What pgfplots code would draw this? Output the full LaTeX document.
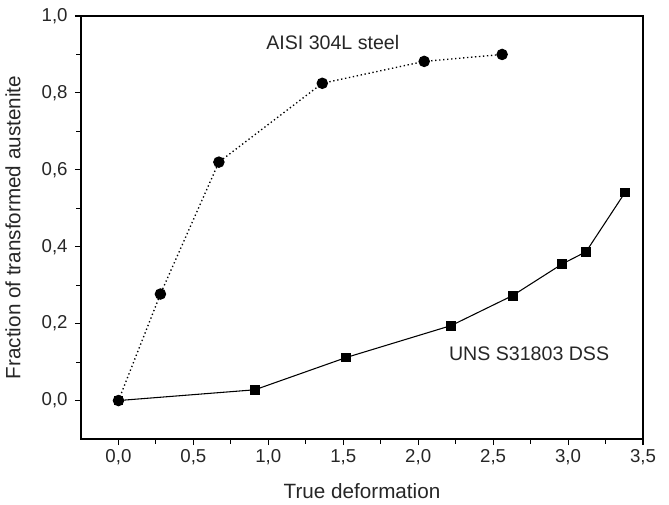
\documentclass[border=0pt]{standalone}
\usepackage{fontspec}
\setmainfont{Liberation Sans}
\usepackage{pgfplots}
\pgfplotsset{compat=1.18}
\begin{document}
\begin{tikzpicture}
\begin{axis}[
  name=ax,
  scale only axis,
  width=421.5pt, height=317.25pt,
  xmin=-0.25, xmax=3.5, ymin=-0.1, ymax=1.0,
  xtick={0,0.5,...,3.5}, ytick={0,0.2,...,1.0},
  minor x tick num=1, minor y tick num=1,
  tick pos=left, tick align=outside,
  major tick length=4.5pt, minor tick length=3.5pt,
  every tick/.style={black, line width=0.8pt},
  axis line style={line width=0.8pt},
  /pgf/number format/assume math mode=true,
  /pgf/number format/use comma,
  /pgf/number format/fixed,
  /pgf/number format/fixed zerofill,
  /pgf/number format/precision=1,
  tick label style={font=\fontsize{14}{16}\selectfont, color=black!85},
  yticklabel style={xshift=-2pt},
  label style={font=\fontsize{15.5}{18}\selectfont, color=black!85},
  xlabel={True deformation},
  ylabel={Fraction of transformed austenite},
  xlabel style={yshift=-7pt},
  ylabel style={yshift=9pt},
  clip=false,
]
\addplot[black, dotted, line width=1pt, mark=*, mark size=3.8pt, mark options={solid}]
coordinates {(0,0) (0.28,0.277) (0.67,0.62) (1.36,0.825) (2.04,0.882) (2.56,0.90)};
\addplot[black, line width=0.8pt, mark=square*, mark size=3.3pt, mark options={solid}]
coordinates {(0,0) (0.91,0.028) (1.52,0.112) (2.22,0.195) (2.63,0.273) (2.96,0.355) (3.12,0.387) (3.38,0.541)};
\node[font=\fontsize{14.7}{17}\selectfont, color=black!85] at (axis cs:1.43,0.93) {AISI 304L steel};
\node[font=\fontsize{14.7}{17}\selectfont, color=black!85] at (axis cs:2.74,0.122) {UNS S31803 DSS};
\end{axis}
\path (ax.south west) ++(-60.75pt,-48.75pt) coordinate (bl);
\path (ax.north east) ++(19.5pt,12pt) coordinate (tr);
\path (bl) rectangle (tr);
\end{tikzpicture}
\end{document}
